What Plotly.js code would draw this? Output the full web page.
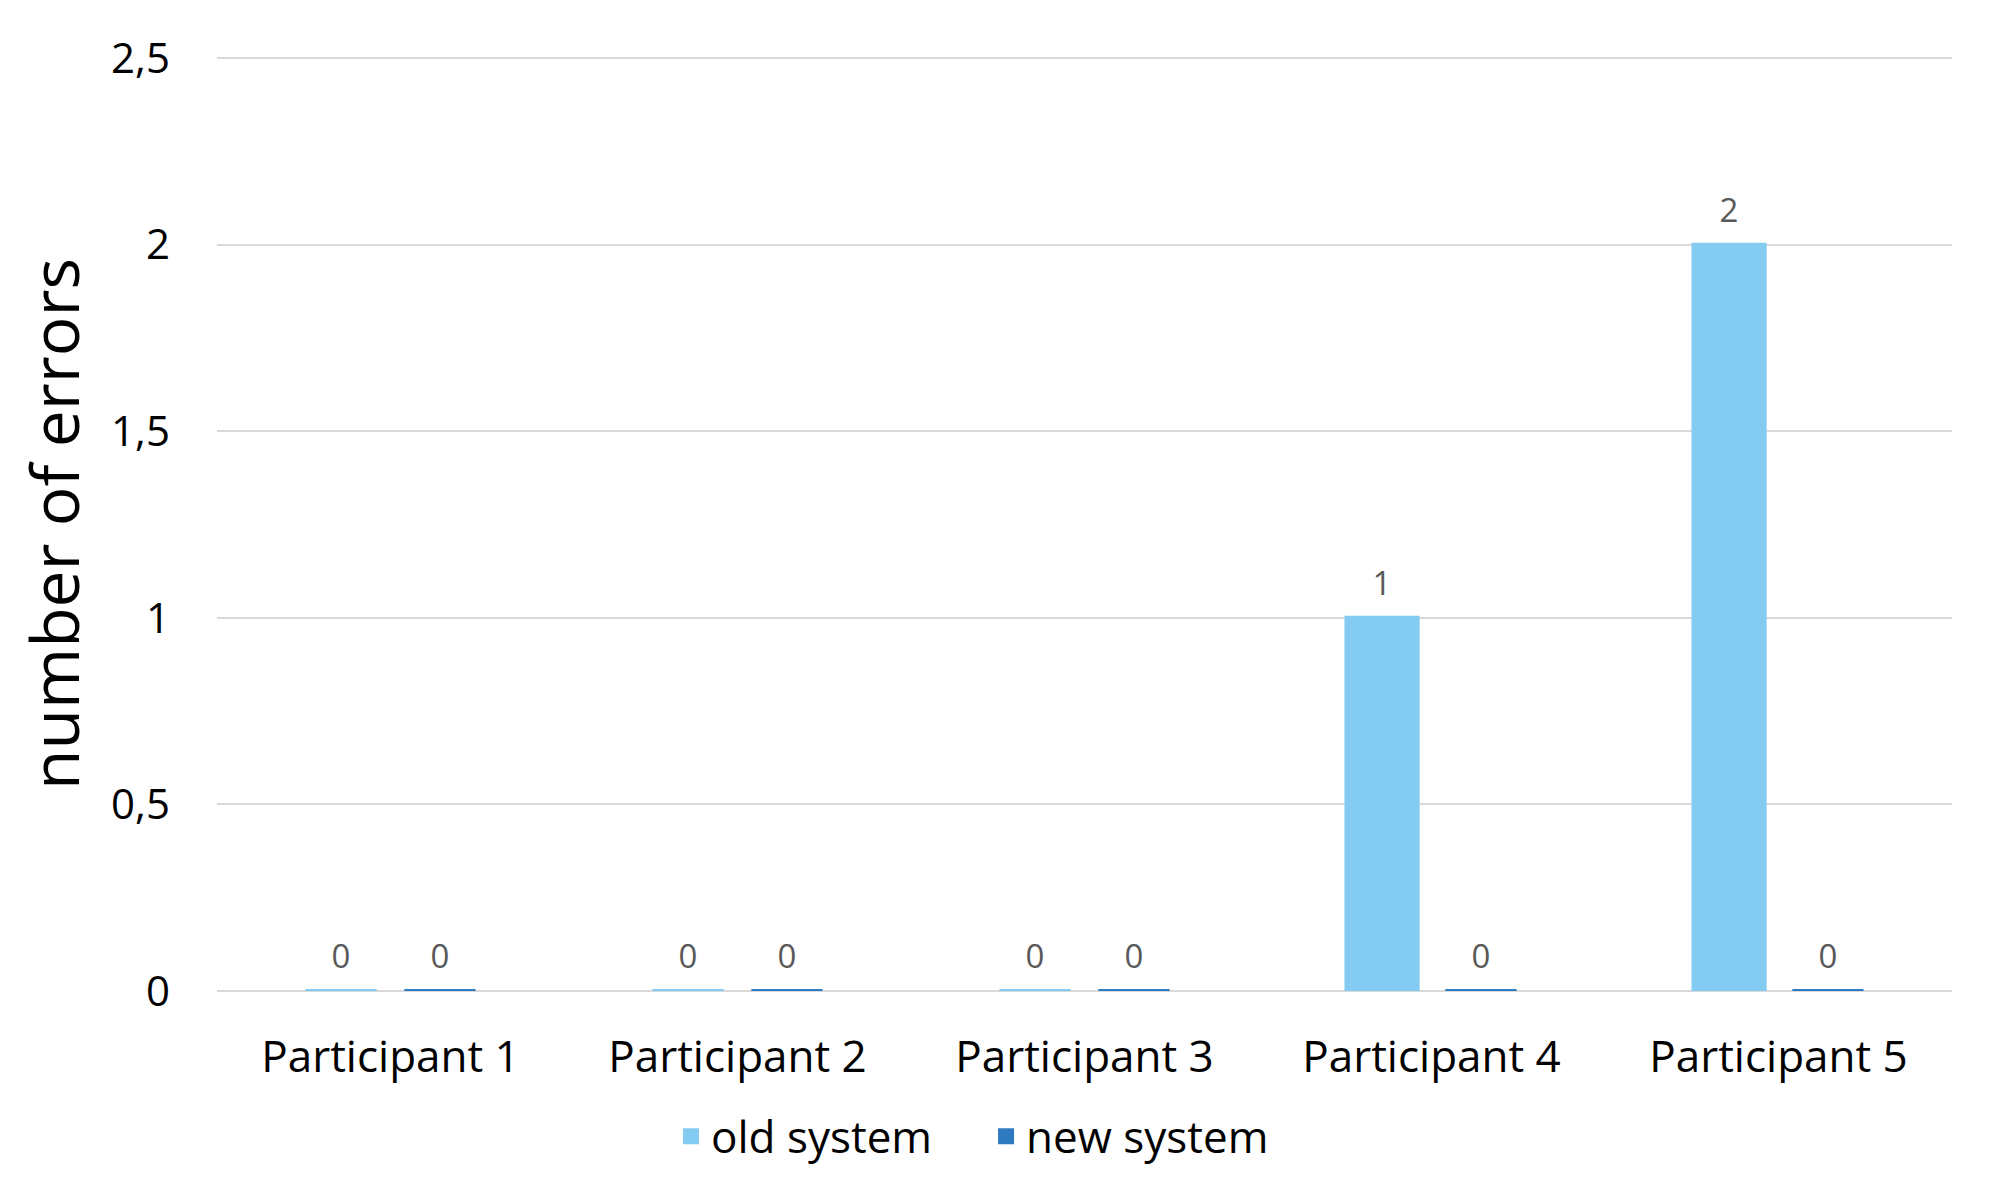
<!DOCTYPE html>
<html>
<head>
<meta charset="utf-8">
<script src="https://cdn.plot.ly/plotly-3.0.1.min.js"></script>
<style>
  html, body { margin: 0; padding: 0; background: #fff; }
  #chart { width: 1990px; height: 1184px; }
</style>
</head>
<body>
<div id="chart"></div>
<script>
const participants = ['Participant 1', 'Participant 2', 'Participant 3', 'Participant 4', 'Participant 5']
const oldSystem = [0, 0, 0, 1, 2]
const newSystem = [0, 0, 0, 0, 0]

const oldColor = '#84CBF2'
const newColor = '#2F7BC1'
const GAP = 0.43

function barTrace(name, y, color) {
  return {
    type: 'bar',
    name,
    x: participants,
    y,
    marker: {color, line: {color, width: 4}},
    hoverinfo: 'x+y+name',
  }
}

// value labels sit a bit higher than plotly's bar text, so use grouped scatter text
function labelTrace(y) {
  return {
    type: 'scatter',
    mode: 'markers+text',
    x: participants,
    y,
    text: y.map(String),
    textposition: 'top center',
    marker: {size: 22, opacity: 0},
    textfont: {family: 'Open Sans', size: 33, color: '#595959'},
    showlegend: false,
    cliponaxis: false,
    hoverinfo: 'skip',
  }
}

let traces = [
  barTrace('old system', oldSystem, oldColor),
  barTrace('new system', newSystem, newColor),
  labelTrace(oldSystem),
  labelTrace(newSystem),
]

let layout = {
  width: 1990,
  height: 1184,
  margin: {l: 217, r: 38, t: 57, b: 193},
  paper_bgcolor: '#fff',
  plot_bgcolor: '#fff',
  font: {family: 'Open Sans', size: 44, color: '#000'},
  separators: ',.',
  barmode: 'group',
  bargap: GAP,
  bargroupgap: 0.28,
  scattermode: 'group',
  scattergap: GAP,
  showlegend: true,
  legend: {
    orientation: 'h',
    xref: 'container', yref: 'container',
    x: 0.4955, xanchor: 'center',
    y: 0.04, yanchor: 'middle',
    entrywidth: 270,
    font: {size: 44, color: '#000'},
    itemclick: false,
  },
  xaxis: {
    type: 'category',
    showgrid: false,
    showline: false,
    zeroline: false,
    ticks: '',
    ticklabelstandoff: 36,
    tickfont: {size: 44, color: '#000'},
  },
  yaxis: {
    range: [0, 2.503],
    dtick: 0.5,
    tick0: 0,
    showgrid: true,
    gridcolor: '#D9D9D9',
    gridwidth: 2,
    zeroline: true,
    zerolinecolor: '#D9D9D9',
    zerolinewidth: 2,
    showline: false,
    ticks: '',
    ticklabelstandoff: 46,
    tickfont: {size: 42, color: '#000'},
    title: {text: 'number of errors', font: {size: 66, color: '#000'}, standoff: 9},
    automargin: true,
  },
}

Plotly.newPlot('chart', traces, layout, {displayModeBar: false, staticPlot: true})
</script>
</body>
</html>
